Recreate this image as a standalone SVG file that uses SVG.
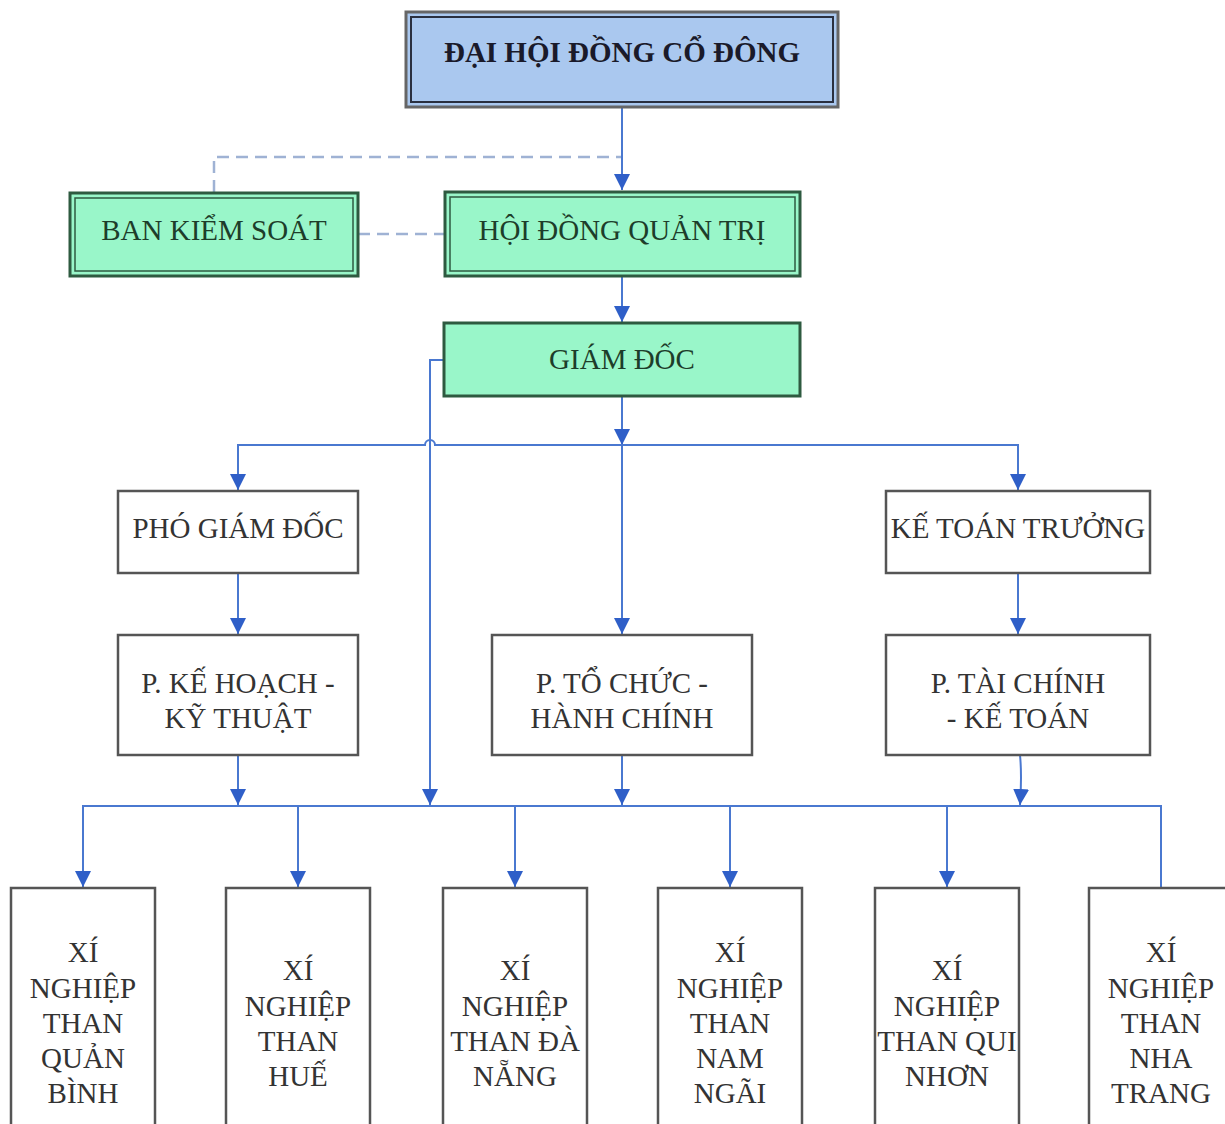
<svg xmlns="http://www.w3.org/2000/svg" width="1225" height="1124" viewBox="0 0 1225 1124">
<defs>
<marker id="arr" viewBox="0 0 10 10" refX="10" refY="5" markerWidth="16" markerHeight="16" markerUnits="userSpaceOnUse" orient="auto">
<path d="M0,0 L10,5 L0,10 z" fill="#2f5fc8"/>
</marker>
<style>
.t{font-family:"Liberation Serif","Times New Roman",serif;font-size:29px;text-anchor:middle;fill:#333}
.tg{fill:#1d3d2a}
.tb{font-weight:bold;font-size:29px;fill:#1a1a2a}
.w{fill:#fff;stroke:#555;stroke-width:2.5}
.g{fill:#99f6c9;stroke:#2e5a40;stroke-width:3}
.gi{fill:none;stroke:#2e5a40;stroke-width:1.5}
.c{fill:none;stroke:#4a78d0;stroke-width:2}
.d{fill:none;stroke:#9fb2d4;stroke-width:2.5;stroke-dasharray:12 7}
</style>
</defs>
<rect width="1225" height="1124" fill="#fff"/>
<g id="connectors">
<path class="d" d="M214,192 V157 H622"/>
<path class="d" d="M358,234 H445"/>
<path class="c" d="M622,107 V190" marker-end="url(#arr)"/>
<path class="c" d="M622,276 V322" marker-end="url(#arr)"/>
<path class="c" d="M622,396 V445" marker-end="url(#arr)"/>
<path class="c" d="M238,490 V445 H425 A5,5 0 0 1 435,445 H1018 V490" marker-end="url(#arr)"/>
<path class="c" d="M238,445 V490" marker-end="url(#arr)"/>
<path class="c" d="M622,445 V634" marker-end="url(#arr)"/>
<path class="c" d="M444,360 H430 V805" marker-end="url(#arr)"/>
<path class="c" d="M238,573 V634" marker-end="url(#arr)"/>
<path class="c" d="M1018,573 V634" marker-end="url(#arr)"/>
<path class="c" d="M238,755 V805" marker-end="url(#arr)"/>
<path class="c" d="M622,755 V805" marker-end="url(#arr)"/>
<path class="c" d="M1020,755 Q1022,775 1020,805" marker-end="url(#arr)"/>
<path class="c" d="M83,887 V806 H1161 V888"/>
<path class="c" d="M83,806 V887" marker-end="url(#arr)"/>
<path class="c" d="M298,806 V887" marker-end="url(#arr)"/>
<path class="c" d="M515,806 V887" marker-end="url(#arr)"/>
<path class="c" d="M730,806 V887" marker-end="url(#arr)"/>
<path class="c" d="M947,806 V887" marker-end="url(#arr)"/>
</g>
<g id="dhdcd">
<rect x="406" y="12" width="432" height="95" fill="#aac8ef" stroke="#666" stroke-width="3"/>
<rect x="411" y="17" width="422" height="85" fill="none" stroke="#2a3040" stroke-width="2"/>
<text class="t tb" x="622" y="62">ĐẠI HỘI ĐỒNG CỔ ĐÔNG</text>
</g>
<g id="bks">
<rect class="g" x="70" y="193" width="288" height="83"/>
<rect class="gi" x="75" y="198" width="278" height="73"/>
<text class="t tg" x="214" y="240">BAN KIỂM SOÁT</text>
</g>
<g id="hdqt">
<rect class="g" x="445" y="192" width="355" height="84"/>
<rect class="gi" x="450" y="197" width="345" height="74"/>
<text class="t tg" x="622" y="240">HỘI ĐỒNG QUẢN TRỊ</text>
</g>
<g id="gd">
<rect class="g" x="444" y="323" width="356" height="73" stroke-width="2.5"/>
<text class="t tg" x="622" y="369">GIÁM ĐỐC</text>
</g>
<g id="pgd">
<rect class="w" x="118" y="491" width="240" height="82"/>
<text class="t" x="238" y="538">PHÓ GIÁM ĐỐC</text>
</g>
<g id="ktt">
<rect class="w" x="886" y="491" width="264" height="82"/>
<text class="t" x="1018" y="538">KẾ TOÁN TRƯỞNG</text>
</g>
<g id="pkhkt">
<rect class="w" x="118" y="635" width="240" height="120"/>
<text class="t" x="238" y="693">P. KẾ HOẠCH -</text>
<text class="t" x="238" y="728">KỸ THUẬT</text>
</g>
<g id="ptchc">
<rect class="w" x="492" y="635" width="260" height="120"/>
<text class="t" x="622" y="693">P. TỔ CHỨC -</text>
<text class="t" x="622" y="728">HÀNH CHÍNH</text>
</g>
<g id="ptckt">
<rect class="w" x="886" y="635" width="264" height="120"/>
<text class="t" x="1018" y="693">P. TÀI CHÍNH</text>
<text class="t" x="1018" y="728">- KẾ TOÁN</text>
</g>
<g id="xn1">
<rect class="w" x="11" y="888" width="144" height="250"/>
<text class="t" x="83" y="962">XÍ</text>
<text class="t" x="83" y="998">NGHIỆP</text>
<text class="t" x="83" y="1033">THAN</text>
<text class="t" x="83" y="1068">QUẢN</text>
<text class="t" x="83" y="1103">BÌNH</text>
</g>
<g id="xn2">
<rect class="w" x="226" y="888" width="144" height="250"/>
<text class="t" x="298" y="980">XÍ</text>
<text class="t" x="298" y="1016">NGHIỆP</text>
<text class="t" x="298" y="1051">THAN</text>
<text class="t" x="298" y="1086">HUẾ</text>
</g>
<g id="xn3">
<rect class="w" x="443" y="888" width="144" height="250"/>
<text class="t" x="515" y="980">XÍ</text>
<text class="t" x="515" y="1016">NGHIỆP</text>
<text class="t" x="515" y="1051">THAN ĐÀ</text>
<text class="t" x="515" y="1086">NẴNG</text>
</g>
<g id="xn4">
<rect class="w" x="658" y="888" width="144" height="250"/>
<text class="t" x="730" y="962">XÍ</text>
<text class="t" x="730" y="998">NGHIỆP</text>
<text class="t" x="730" y="1033">THAN</text>
<text class="t" x="730" y="1068">NAM</text>
<text class="t" x="730" y="1103">NGÃI</text>
</g>
<g id="xn5">
<rect class="w" x="875" y="888" width="144" height="250"/>
<text class="t" x="947" y="980">XÍ</text>
<text class="t" x="947" y="1016">NGHIỆP</text>
<text class="t" x="947" y="1051">THAN QUI</text>
<text class="t" x="947" y="1086">NHƠN</text>
</g>
<g id="xn6">
<rect class="w" x="1089" y="888" width="150" height="250"/>
<text class="t" x="1161" y="962">XÍ</text>
<text class="t" x="1161" y="998">NGHIỆP</text>
<text class="t" x="1161" y="1033">THAN</text>
<text class="t" x="1161" y="1068">NHA</text>
<text class="t" x="1161" y="1103">TRANG</text>
</g>
</svg>
